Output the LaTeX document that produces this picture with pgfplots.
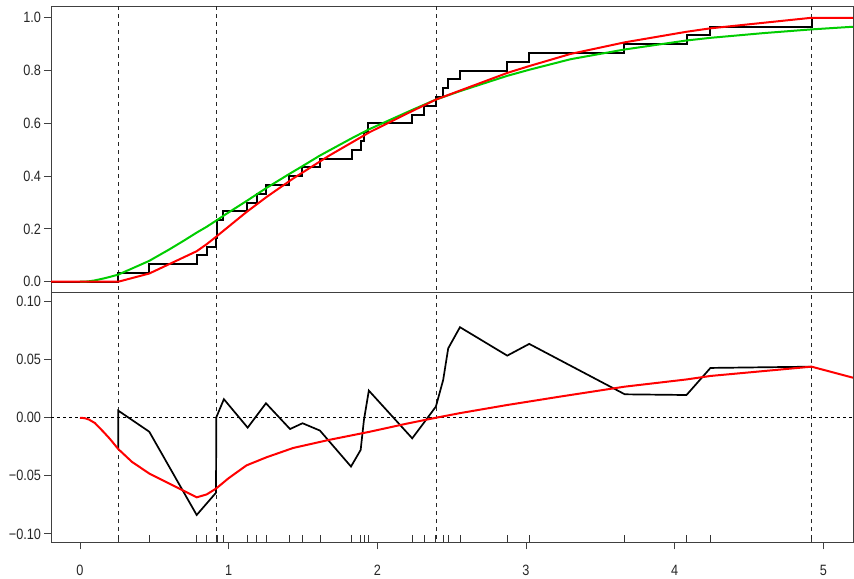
\documentclass[border=0pt]{standalone}
\usepackage{fontspec}
\setmainfont{Liberation Sans}
\usepackage{pgfplots}
\pgfplotsset{compat=1.18}
\definecolor{rred}{RGB}{255,0,0}
\definecolor{rgreen}{RGB}{0,205,0}
\begin{document}
\begin{tikzpicture}
\pgfplotsset{
  common/.style={
    scale only axis, width=802bp, xmin=-0.195, xmax=5.2,
    axis line style={black!75, line width=0.9bp},
    tick style={black!75, line width=0.9bp},
    tick align=outside, major tick length=7bp,
    ytick pos=left, xtick pos=bottom,
    ticklabel style={font=\fontsize{15}{15}\selectfont, text=black!85},
    yticklabel style={xscale=0.85},
    xticklabel style={xscale=0.85},
  },
  vref/.style={black!85, line width=0.7bp, dash pattern=on 4bp off 4bp},
}
\begin{axis}[common, name=top, height=285.3bp, ymin=-0.039, ymax=1.042,
  xtick=\empty, ytick={0,0.2,0.4,0.6,0.8,1.0},
  yticklabels={0.0,0.2,0.4,0.6,0.8,1.0}]
\addplot[vref] coordinates {(0.258,-1) (0.258,2)};
\addplot[vref] coordinates {(0.915,-1) (0.915,2)};
\addplot[vref] coordinates {(2.394,-1) (2.394,2)};
\addplot[vref] coordinates {(4.921,-1) (4.921,2)};
% empirical CDF
\addplot[black, line width=2bp, const plot] coordinates {
(-0.3,0) (0.258,0.0333) (0.466,0.0667) (0.785,0.1) (0.852,0.1333) (0.915,0.1667)
(0.923,0.2333) (0.964,0.2667) (1.125,0.3) (1.188,0.3333) (1.253,0.3667) (1.408,0.4)
(1.493,0.4333) (1.614,0.4667) (1.827,0.5) (1.888,0.5333) (1.912,0.5667) (1.939,0.6)
(2.235,0.6333) (2.315,0.6667) (2.394,0.7) (2.443,0.7333) (2.477,0.7667) (2.556,0.8)
(2.874,0.8333) (3.022,0.8667) (3.661,0.9) (4.08,0.9333) (4.241,0.9667) (4.921,1) (5.3,1)};
% green fitted CDF
\addplot[rgreen, line width=2bp] coordinates {
(0,0) (0.04,0.0005) (0.067,0.002) (0.1,0.005) (0.157,0.012) (0.2,0.018) (0.258,0.027)
(0.35,0.05) (0.466,0.079) (0.6,0.122) (0.7,0.156) (0.785,0.186) (0.852,0.208)
(0.915,0.231) (0.968,0.251) (1.128,0.3085) (1.251,0.354) (1.413,0.41) (1.497,0.438)
(1.614,0.478) (1.823,0.542) (1.888,0.561) (1.943,0.577) (2.235,0.651) (2.394,0.690)
(2.556,0.722) (2.874,0.78) (3.022,0.803) (3.3,0.843) (3.665,0.88) (4.08,0.914)
(4.241,0.924) (4.6,0.942) (4.921,0.956) (5.2,0.966)};
% red smoothed CDF
\addplot[rred, line width=2bp] coordinates {
(-0.3,0) (0.258,0) (0.466,0.031) (0.785,0.1155) (0.852,0.142) (0.915,0.170)
(1.12,0.264) (1.255,0.321) (1.434,0.391) (1.677,0.478) (1.95,0.567) (2.2,0.637)
(2.394,0.690) (2.874,0.791) (3.022,0.817) (3.3,0.863) (3.665,0.907) (4.08,0.947)
(4.241,0.96) (4.921,1.0) (5.3,1.0)};
\end{axis}
\begin{axis}[common, name=bot, at={(top.south west)}, anchor=north west,
  height=250.3bp, ymin=-0.1072, ymax=0.1083,
  ytick={-0.1,-0.05,0,0.05,0.1},
  yticklabels={−0.10,−0.05,0.00,0.05,0.10},
  xtick={0,1,2,3,4,5}, xticklabels={0,1,2,3,4,5},
  extra x ticks={0.258,0.466,0.785,0.852,0.915,0.923,0.964,1.125,1.188,1.253,1.408,1.493,1.614,1.827,1.888,1.912,1.939,2.235,2.315,2.394,2.443,2.477,2.556,2.874,3.022,3.661,4.08,4.241,4.921},
  extra x tick labels={},
  extra x tick style={tick align=inside, major tick length=7bp, tick style={black!80, line width=0.8bp}},
  xticklabel style={yshift=-12bp}]
\addplot[black, line width=0.7bp, dash pattern=on 3bp off 3bp] coordinates {(-1,0) (6,0)};
\addplot[vref] coordinates {(0.258,-1) (0.258,2)};
\addplot[vref] coordinates {(0.915,-1) (0.915,2)};
\addplot[vref] coordinates {(2.394,-1) (2.394,2)};
\addplot[vref] coordinates {(4.921,-1) (4.921,2)};
\addplot[black, line width=1.7bp] coordinates {
(0.258,-0.0269) (0.258,0.0061) (0.466,-0.012) (0.785,-0.0837) (0.915,-0.0645)
(0.917,0.0004) (0.968,0.016) (1.128,-0.0085) (1.251,0.0125) (1.413,-0.0097)
(1.497,-0.0047) (1.614,-0.011) (1.823,-0.042) (1.888,-0.0277) (1.91,-0.002)
(1.943,0.0234) (2.235,-0.0177) (2.315,-0.004) (2.394,0.0096) (2.443,0.0325) (2.477,0.0598)
(2.556,0.078) (2.874,0.0535) (3.022,0.0636) (3.665,0.0202) (4.08,0.0196)
(4.241,0.0429) (4.921,0.044)};
\addplot[rred, line width=2bp] coordinates {
(0,0) (0.03,-0.0003) (0.06,-0.0015) (0.1,-0.0045) (0.157,-0.012) (0.2,-0.018) (0.258,-0.027)
(0.35,-0.038) (0.466,-0.048) (0.785,-0.0685) (0.852,-0.066) (0.915,-0.061) (1.0,-0.052)
(1.12,-0.041) (1.255,-0.034) (1.434,-0.026) (1.677,-0.019) (1.95,-0.012)
(2.2,-0.005) (2.394,0) (2.556,0.004) (2.874,0.011) (3.022,0.014) (3.228,0.0182)
(3.665,0.0268) (4.08,0.033) (4.241,0.036) (4.921,0.044) (5.2,0.0345)};
\end{axis}
\path (top.north west) ++(-51bp,6.7bp) coordinate (bbA);
\path (bot.south east) ++(1bp,-34.7bp) coordinate (bbB);
\end{tikzpicture}
\end{document}
